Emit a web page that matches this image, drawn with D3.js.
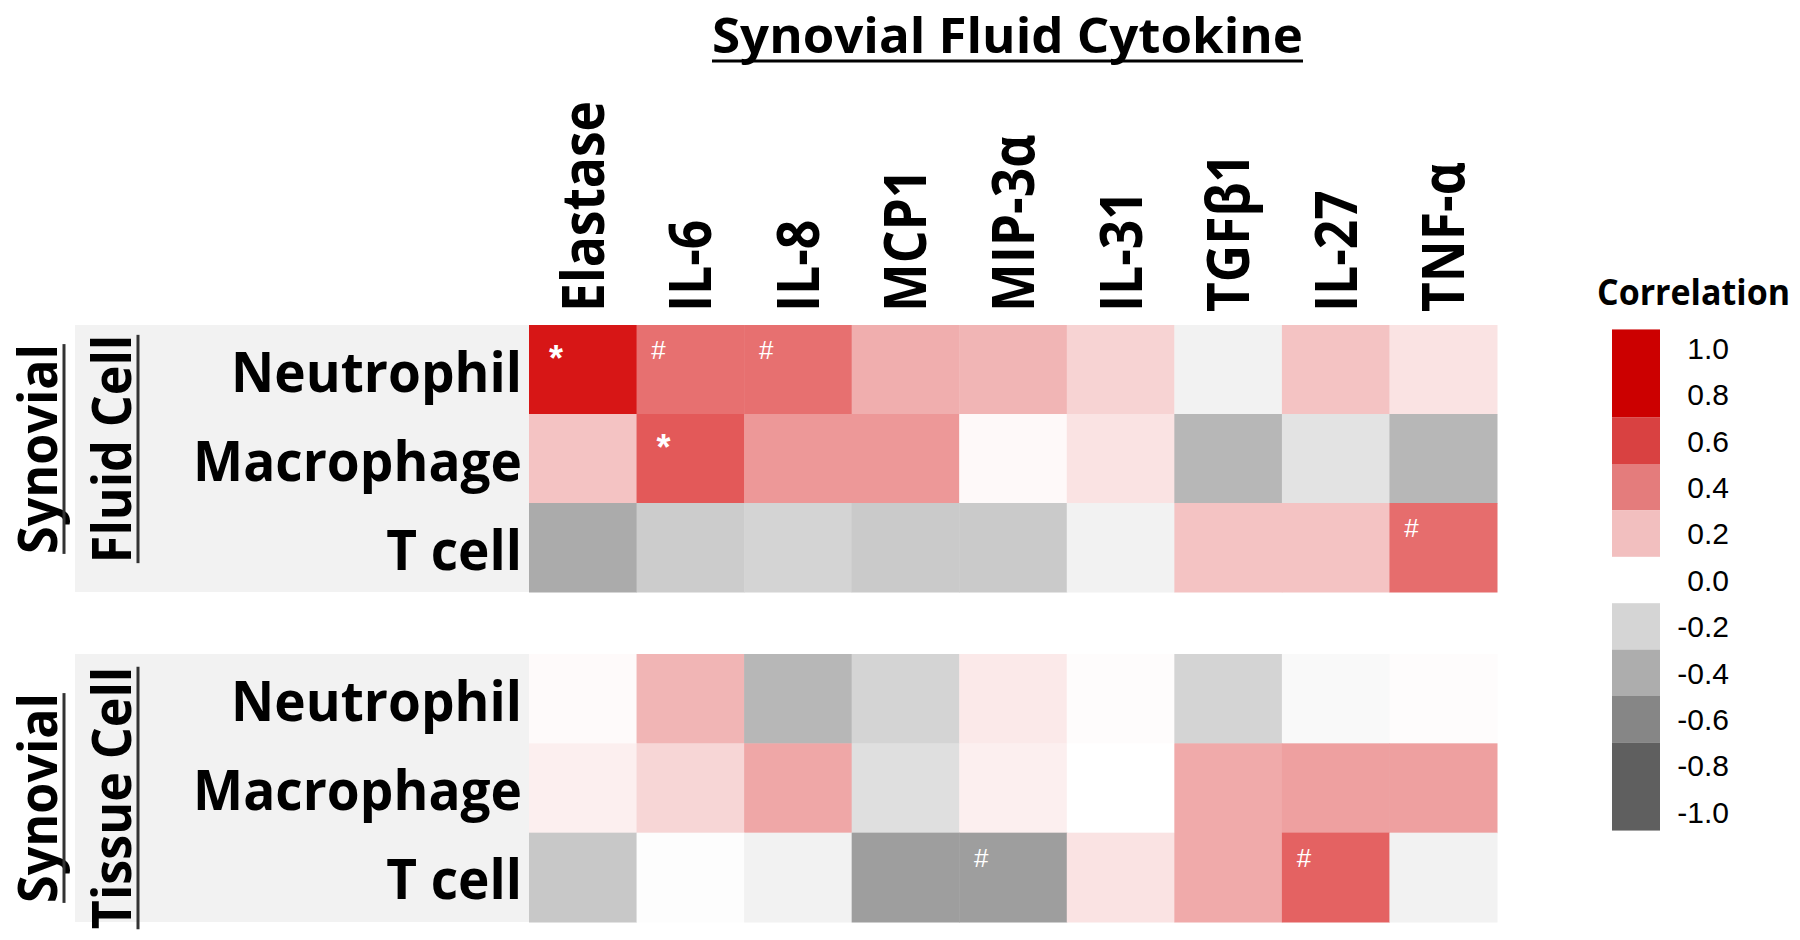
<!DOCTYPE html>
<html>
<head>
<meta charset="utf-8">
<script src="https://cdn.jsdelivr.net/npm/d3@7"></script>
<style>
  html, body { margin: 0; padding: 0; background: #ffffff; }
  svg { display: block; }
</style>
</head>
<body>
<svg id="chart" width="1800" height="940"></svg>
<script>
// ---------------- DATA ----------------
const chartTitle = "Synovial Fluid Cytokine";
const legendTitle = "Correlation";
const cytokines = ["Elastase", "IL-6", "IL-8", "MCP1", "MIP-3α", "IL-31", "TGFβ1", "IL-27", "TNF-α"];
const cellTypes = ["Neutrophil", "Macrophage", "T cell"];
const groupLabels = [["Synovial", "Fluid Cell"], ["Synovial", "Tissue Cell"]];

// correlation values, rows = cellTypes, columns = cytokines
const fluidValues = [
  [0.82, 0.43, 0.43, 0.25, 0.23, 0.14, -0.06, 0.19, 0.09],
  [0.19, 0.51, 0.31, 0.31, 0.02, 0.09, -0.35, -0.13, -0.35],
  [-0.41, -0.24, -0.20, -0.25, -0.25, -0.06, 0.19, 0.19, 0.44]
];
const tissueValues = [
  [0.015, 0.23, -0.35, -0.20, 0.07, 0.01, -0.20, -0.03, 0.01],
  [0.05, 0.13, 0.27, -0.15, 0.05, 0.00, 0.26, 0.29, 0.29],
  [-0.26, -0.01, -0.06, -0.48, -0.48, 0.09, 0.26, 0.48, -0.06]
];
// significance marks
const fluidMarks = [
  ["*", "#", "#", "", "", "", "", "", ""],
  ["", "*", "", "", "", "", "", "", ""],
  ["", "", "", "", "", "", "", "", "#"]
];
const tissueMarks = [
  ["", "", "", "", "", "", "", "", ""],
  ["", "", "", "", "", "", "", "", ""],
  ["", "", "", "", "#", "", "", "#", ""]
];

// colour scale stops
const colorDomain = [-1.0, -0.8, -0.6, -0.4, -0.2, 0.0, 0.2, 0.4, 0.6, 0.8, 1.0];
const colorRange = ["#555555", "#606060", "#878787", "#ADADAD", "#D4D4D4", "#FFFFFF",
                    "#F3C0C0", "#E87878", "#DE4040", "#D81818", "#CC0000"];

// legend
const legendTicks = [1.0, 0.8, 0.6, 0.4, 0.2, 0.0, -0.2, -0.4, -0.6, -0.8, -1.0];
const legendBinLow  = [0.7, 0.5, 0.3, 0.1, -0.3, -0.5, -0.7, -1.08];
const legendBinHigh = [1.08, 0.7, 0.5, 0.3, -0.1, -0.3, -0.5, -0.7];
const legendBinColors = ["#CC0000", "#D94141", "#E47C7C", "#F2BFBF", "#D5D5D5", "#ADADAD", "#868686", "#5F5F5F"];

// ---------------- LAYOUT ----------------
const svg = d3.select("#chart");
const FONT = "'Open Sans', 'Liberation Sans', sans-serif";
const NUMFONT = "'Liberation Sans', Arial, sans-serif";

const x = d3.scaleBand().domain(cytokines).range([529, 1497]);
const yGroups = [
  d3.scaleBand().domain(cellTypes).range([325, 592]),
  d3.scaleBand().domain(cellTypes).range([654, 922])
];
const color = d3.scaleLinear().domain(colorDomain).range(colorRange).clamp(true);
const panelLeft = 75;

const groups = [
  { values: fluidValues, marks: fluidMarks, y: yGroups[0], labels: groupLabels[0] },
  { values: tissueValues, marks: tissueMarks, y: yGroups[1], labels: groupLabels[1] }
];

// Title
svg.append("text")
  .attr("x", 712).attr("y", 53)
  .attr("font-family", FONT).attr("font-weight", 700).attr("font-size", 48)
  .attr("textLength", 591).attr("lengthAdjust", "spacingAndGlyphs")
  .attr("fill", "#000")
  .text(chartTitle);
svg.append("line")
  .attr("x1", 712).attr("x2", 1303).attr("y1", 61).attr("y2", 61)
  .attr("stroke", "#000").attr("stroke-width", 3);

// Column labels
const colLabelScale = 0.86;
svg.append("g").selectAll("text")
  .data(cytokines)
  .join("text")
  .attr("transform", d => `translate(${x(d) + x.bandwidth() / 2 + 21},312) rotate(-90) scale(${colLabelScale},1)`)
  .attr("font-family", FONT).attr("font-weight", 700).attr("font-size", 60)
  .attr("fill", "#000")
  .text(d => d);

groups.forEach((g, gi) => {
  const y = g.y;
  const [y0, y1] = y.range();
  const gg = svg.append("g");

  // gray panel behind row labels
  gg.append("rect")
    .attr("x", panelLeft).attr("y", y0)
    .attr("width", x.range()[0] - panelLeft).attr("height", y1 - y0)
    .attr("fill", "#F2F2F2");

  // cells
  const cells = [];
  g.values.forEach((row, ri) => row.forEach((v, ci) => cells.push({ r: cellTypes[ri], c: cytokines[ci], v, m: g.marks[ri][ci] })));
  gg.selectAll("rect.cell")
    .data(cells)
    .join("rect")
    .attr("class", "cell")
    .attr("x", d => x(d.c)).attr("y", d => y(d.r))
    .attr("width", x.bandwidth() + 0.5).attr("height", y.bandwidth() + 0.5)
    .attr("fill", d => color(d.v));

  // marks
  gg.selectAll("text.mark")
    .data(cells.filter(d => d.m))
    .join("text")
    .attr("class", "mark")
    .attr("x", d => x(d.c) + (d.m === "*" ? 27 : 22))
    .attr("y", d => y(d.r) + (d.m === "*" ? 46 : 34))
    .attr("text-anchor", "middle")
    .attr("font-family", NUMFONT)
    .attr("font-weight", d => d.m === "*" ? 700 : 400)
    .attr("font-size", d => d.m === "*" ? 36 : 26)
    .attr("fill", "#fff")
    .text(d => d.m);

  // row labels
  gg.selectAll("text.row")
    .data(cellTypes)
    .join("text")
    .attr("class", "row")
    .attr("transform", d => `translate(522,${y(d) + y.bandwidth() / 2 + 22}) scale(0.95,1)`)
    .attr("text-anchor", "end")
    .attr("font-family", FONT).attr("font-weight", 700).attr("font-size", 56)
    .attr("fill", "#000")
    .text(d => d);

  // group labels (rotated, underlined)
  const cy = gi === 0 ? 449 : 798;
  const baseX = [57, 131];
  g.labels.forEach((lab, li) => {
    const t = gg.append("text")
      .attr("transform", `translate(${baseX[li]},${cy}) rotate(-90) scale(0.93,1)`)
      .attr("text-anchor", "middle")
      .attr("font-family", FONT).attr("font-weight", 700).attr("font-size", 54)
      .attr("fill", "#000")
      .text(lab);
    const len = t.node().getComputedTextLength() * 0.93;
    gg.append("line")
      .attr("x1", baseX[li] + 7).attr("x2", baseX[li] + 7)
      .attr("y1", cy - len / 2).attr("y2", cy + len / 2)
      .attr("stroke", "#333").attr("stroke-width", 3);
  });
});

// Legend
const ly = d3.scaleLinear().domain([-1, 1]).range([812, 348]);
svg.append("text")
  .attr("x", 1597).attr("y", 305)
  .attr("font-family", FONT).attr("font-weight", 700).attr("font-size", 35)
  .attr("textLength", 193).attr("lengthAdjust", "spacingAndGlyphs")
  .attr("fill", "#000")
  .text(legendTitle);

svg.append("g").selectAll("rect")
  .data(legendBinColors)
  .join("rect")
  .attr("x", 1612).attr("width", 48)
  .attr("y", (d, i) => ly(legendBinHigh[i]))
  .attr("height", (d, i) => ly(legendBinLow[i]) - ly(legendBinHigh[i]))
  .attr("fill", d => d);

const fmt = d3.format(".1f");
svg.append("g").selectAll("text")
  .data(legendTicks)
  .join("text")
  .attr("x", 1729).attr("y", d => ly(d))
  .attr("dy", "0.36em")
  .attr("text-anchor", "end")
  .attr("font-family", NUMFONT).attr("font-size", 30)
  .attr("fill", "#000")
  .text(d => fmt(d).replace("−", "-"));
</script>
</body>
</html>
